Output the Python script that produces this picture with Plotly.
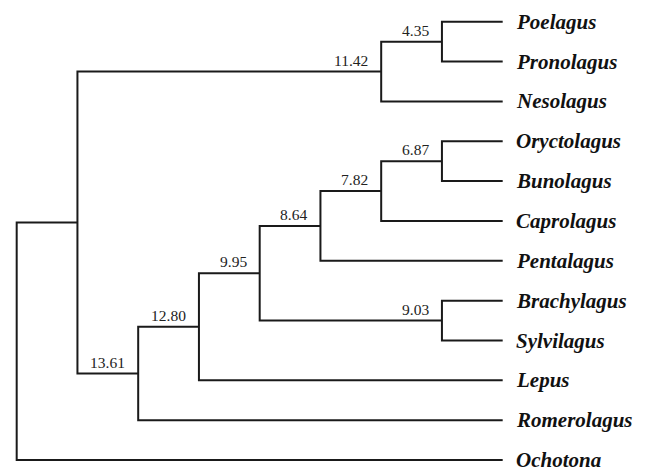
import plotly.graph_objects as go

# ---- data ----
leaves = ["Poelagus", "Pronolagus", "Nesolagus", "Oryctolagus", "Bunolagus",
          "Caprolagus", "Pentalagus", "Brachylagus", "Sylvilagus", "Lepus",
          "Romerolagus", "Ochotona"]
node_names = ["n1", "n2", "n3", "n4", "n5", "n6", "n7", "n8", "n9", "n10", "n11"]
node_children = [("Poelagus", "Pronolagus"), ("n1", "Nesolagus"),
                 ("Oryctolagus", "Bunolagus"), ("n3", "Caprolagus"),
                 ("n4", "Pentalagus"), ("Brachylagus", "Sylvilagus"),
                 ("n5", "n6"), ("n7", "Lepus"), ("n8", "Romerolagus"),
                 ("n2", "n9"), ("n10", "Ochotona")]
node_values = ["4.35", "11.42", "6.87", "7.82", "8.64", "9.03", "9.95",
               "12.80", "13.61", "", ""]

# ---- layout of the tree (cladogram: x = height level, y = leaf order) ----
pos = {}
for i, name in enumerate(leaves):
    pos[name] = (0, i)
for name, (a, b) in zip(node_names, node_children):
    lvl = max(pos[a][0], pos[b][0]) + 1
    pos[name] = (lvl, (pos[a][1] + pos[b][1]) / 2)

xs, ys = [], []
for name, (a, b) in zip(node_names, node_children):
    nx, ny = pos[name]
    ax_, ay = pos[a]
    bx, by = pos[b]
    xs += [ax_, nx, nx, bx, None]
    ys += [ay, ay, by, by, None]

fig = go.Figure()
fig.add_trace(go.Scatter(x=xs, y=ys, mode="lines",
                         line=dict(color="#1a1a1a", width=2),
                         hoverinfo="skip", showlegend=False))

annotations = []
for name in leaves:
    x, y = pos[name]
    annotations.append(dict(x=x, y=y, text=name, showarrow=False,
                            xanchor="left", yanchor="middle", xshift=11, yshift=0,
                            font=dict(family="Liberation Serif", size=21,
                                      color="#111", style="italic", weight="bold")))
for name, val in zip(node_names, node_values):
    if not val:
        continue
    x, y = pos[name]
    annotations.append(dict(x=x, y=y, text=val, showarrow=False,
                            xanchor="right", yanchor="bottom", xshift=-11, yshift=1,
                            font=dict(family="Liberation Serif", size=15.5, color="#222")))

fig.update_layout(
    width=638, height=459,
    margin=dict(l=0, r=0, t=0, b=0),
    paper_bgcolor="white", plot_bgcolor="white",
    xaxis=dict(range=[8.143, -2.359], visible=False, fixedrange=True),
    yaxis=dict(range=[11.174, -0.3438], visible=False, fixedrange=True),
    annotations=annotations,
)
fig.write_html("out.html")
